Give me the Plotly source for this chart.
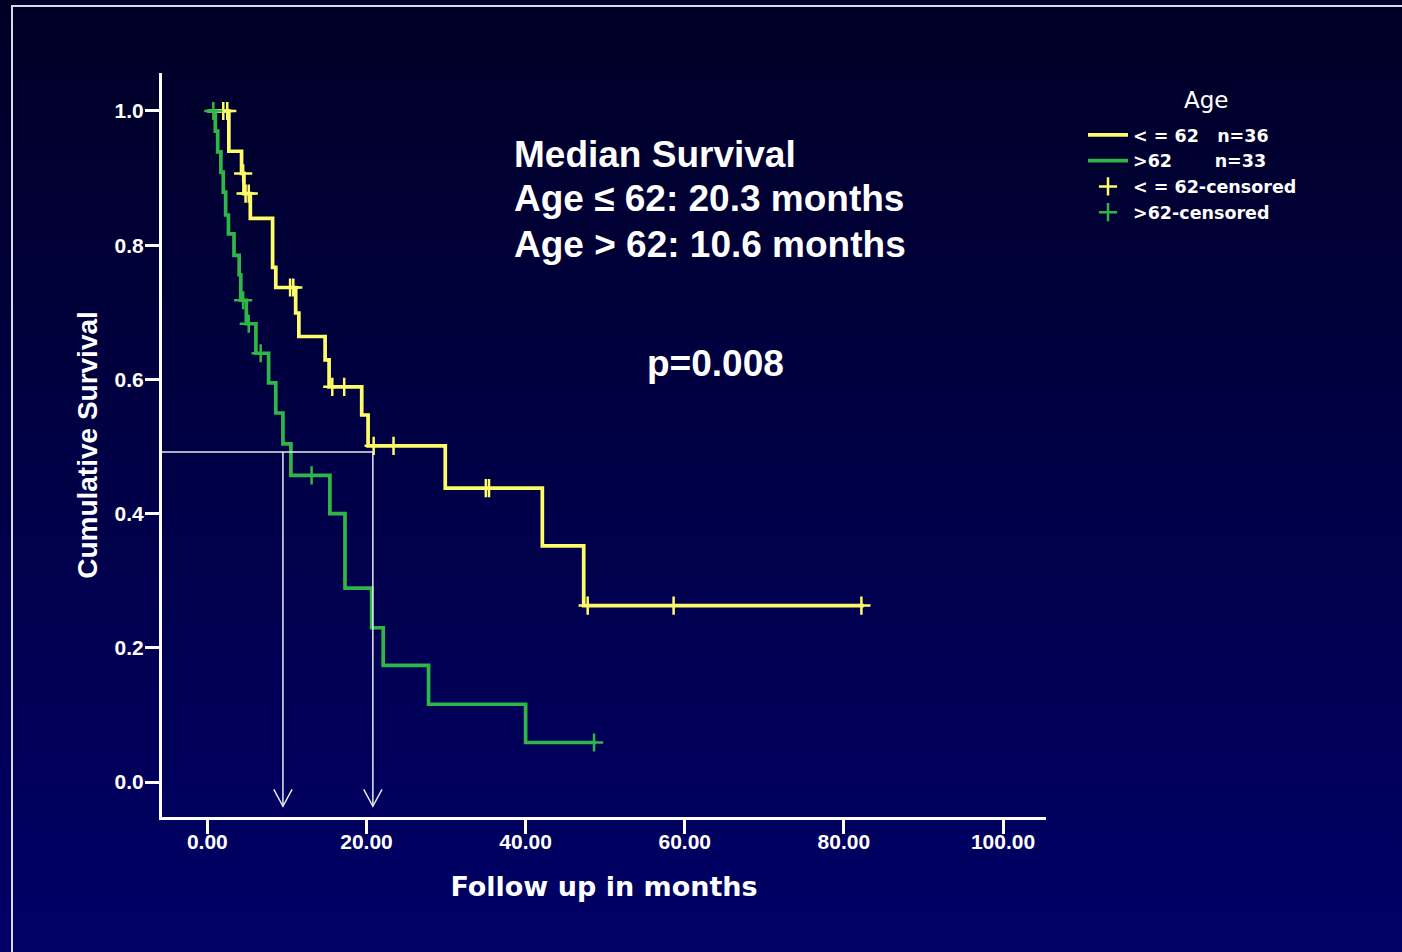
import plotly.graph_objects as go

# ---------------- data ----------------
young_t = [0, 2.7, 4.3, 4.6, 5.4, 8.2, 8.6, 11.1, 11.5, 14.8, 15.3, 19.4, 20.2, 29.9, 42.1, 47.3, 82.5]
young_s = [1.0, 0.940, 0.907, 0.877, 0.840, 0.767, 0.737, 0.699, 0.664, 0.629, 0.589, 0.547, 0.501, 0.438, 0.352, 0.263, 0.263]
young_cens_t = [2.0, 2.5, 4.5, 4.8, 5.2, 10.4, 10.8, 15.7, 17.2, 20.9, 23.4, 35.0, 35.4, 47.8, 58.6, 82.2]
young_cens_s = [1.0, 1.0, 0.907, 0.877, 0.877, 0.737, 0.737, 0.589, 0.589, 0.501, 0.501, 0.438, 0.438, 0.263, 0.263, 0.263]

old_t = [0, 1.0, 1.3, 1.7, 2.0, 2.3, 2.65, 3.35, 4.0, 4.2, 4.9, 6.1, 7.7, 8.6, 9.5, 10.5, 15.4, 17.3, 20.65, 22.1, 27.8, 40.0, 48.8]
old_s = [1.0, 0.970, 0.939, 0.909, 0.879, 0.845, 0.817, 0.785, 0.756, 0.718, 0.683, 0.639, 0.595, 0.550, 0.504, 0.457, 0.400, 0.289, 0.230, 0.174, 0.116, 0.059, 0.059]
old_cens_t = [0.75, 4.5, 5.2, 6.7, 13.1, 48.6]
old_cens_s = [1.0, 0.718, 0.683, 0.639, 0.457, 0.059]

median_level = 0.492
median_times = [9.5, 20.8]

x_ticks = [0, 20, 40, 60, 80, 100]
y_ticks = [0.0, 0.2, 0.4, 0.6, 0.8, 1.0]

text_lines = ["Median Survival", "Age ≤ 62: 20.3 months", "Age > 62: 10.6 months"]
p_text = "p=0.008"
legend_title = "Age"

YELLOW = "#fdfd6a"
GREEN = "#30b548"
WHITE = "#ffffff"
NB = "\u00a0"

fig = go.Figure()

fig.add_trace(go.Scatter(x=young_t, y=young_s, mode="lines", line=dict(shape="hv", color=YELLOW, width=3.7),
                         name=f"<{NB}={NB}62{NB*3}n=36"))
fig.add_trace(go.Scatter(x=old_t, y=old_s, mode="lines", line=dict(shape="hv", color=GREEN, width=3.7),
                         name=f">62{NB*7}n=33"))
fig.add_trace(go.Scatter(x=young_cens_t, y=young_cens_s, mode="markers",
                         marker=dict(symbol="cross-thin", size=13, color=YELLOW, line=dict(color=YELLOW, width=2.5)),
                         name=f"<{NB}={NB}62-censored"))
fig.add_trace(go.Scatter(x=old_cens_t, y=old_cens_s, mode="markers",
                         marker=dict(symbol="cross-thin", size=13, color=GREEN, line=dict(color=GREEN, width=2.5)),
                         name=">62-censored"))

# median reference lines with open arrowheads
xmin, xmax = -5.7, 105.4
ymin, ymax = -0.052, 1.0566
arrow_tip = -0.036
arrow_h = 0.025
arrow_w = 1.15
line_style = dict(color="#e8e8f0", width=1.5)
shapes = []
shapes.append(dict(type="line", xref="x", yref="y", x0=xmin, x1=max(median_times),
                   y0=median_level, y1=median_level, line=line_style))
for mt in median_times:
    shapes.append(dict(type="line", xref="x", yref="y", x0=mt, x1=mt, y0=median_level, y1=arrow_tip, line=line_style))
    shapes.append(dict(type="path", xref="x", yref="y",
                       path=f"M {mt-arrow_w},{arrow_tip+arrow_h} L {mt},{arrow_tip} L {mt+arrow_w},{arrow_tip+arrow_h}",
                       line=line_style))

# background gradient (paper coordinates)
W, H = 1402, 952
L, R, T, B = 162, 356, 73, 135
pw, ph = W - L - R, H - T - B
nb = 48
for i in range(nb):
    py0 = i * H / nb
    py1 = (i + 1) * H / nb + 1
    f = (i + 0.5) / nb
    blue = int(38 + (104 - 38) * f)
    shapes.append(dict(type="rect", xref="paper", yref="paper", layer="below",
                       x0=-L / pw - 0.01, x1=1 + R / pw + 0.01,
                       y0=1 + (T - py1) / ph, y1=1 + (T - py0) / ph,
                       line=dict(width=0), fillcolor=f"rgb(0,0,{blue})"))
# frame
fx = (12 - L) / pw
fy = 1 + (T - 6) / ph
shapes.append(dict(type="path", xref="paper", yref="paper", layer="below",
                   path=f"M {fx},{-B/ph - 0.01} L {fx},{fy} L {1 + R/pw + 0.01},{fy}",
                   line=dict(color="#d8d8e8", width=2)))


def py(v):
    return 1 + (T - v) / ph


def px(v):
    return (v - L) / pw


annotations = []
for line_text, cy in zip(text_lines, [154, 199, 244]):
    annotations.append(dict(xref="paper", yref="paper", x=px(512), y=py(cy), xanchor="left", yanchor="middle",
                            showarrow=False, text=line_text,
                            font=dict(family="Liberation Sans", size=37, color=WHITE, weight="bold")))
annotations.append(dict(xref="paper", yref="paper", x=px(715), y=py(363), xanchor="center", yanchor="middle",
                        showarrow=False, text=p_text,
                        font=dict(family="Liberation Sans", size=37, color=WHITE, weight="bold")))
annotations.append(dict(xref="paper", yref="paper", x=px(1206), y=py(100), xanchor="center", yanchor="middle",
                        showarrow=False, text=legend_title,
                        font=dict(family="DejaVu Sans", size=23, color=WHITE)))

fig.update_layout(
    width=W, height=H,
    margin=dict(l=L, r=R, t=T, b=B, autoexpand=False),
    paper_bgcolor="#000044",
    plot_bgcolor="rgba(0,0,0,0)",
    shapes=shapes,
    showlegend=True,
    legend=dict(
        x=px(1083), y=py(117), xanchor="left", yanchor="top",
        bgcolor="rgba(0,0,0,0)",
        font=dict(family="DejaVu Sans", size=17.5, color=WHITE, weight="bold"),
        itemwidth=40, tracegroupgap=0,
    ),
    xaxis=dict(
        range=[xmin, xmax], tickvals=x_ticks, tickformat=".2f",
        showgrid=False, zeroline=False, showline=True, linecolor=WHITE, linewidth=3,
        ticks="outside", ticklen=14, tickwidth=3, tickcolor=WHITE, ticklabelstandoff=-10,
        tickfont=dict(family="Liberation Sans", size=21, color=WHITE, weight="bold"),
        title=dict(text="Follow up in months", standoff=25,
                   font=dict(family="DejaVu Sans", size=27, color=WHITE, weight="bold")),
    ),
    yaxis=dict(
        range=[ymin, ymax], tickvals=y_ticks, tickformat=".1f",
        showgrid=False, zeroline=False, showline=True, linecolor=WHITE, linewidth=3,
        ticks="outside", ticklen=14, tickwidth=3, tickcolor=WHITE, ticklabelstandoff=-3,
        tickfont=dict(family="Liberation Sans", size=21, color=WHITE, weight="bold"),
        title=dict(text="Cumulative Survival", standoff=9,
                   font=dict(family="Liberation Sans", size=28, color=WHITE, weight="bold")),
    ),
    annotations=annotations,
)

fig.write_html(
    "out.html",
    config={"displayModeBar": False},
    post_script="document.body.style.margin='0';document.body.style.overflow='hidden';"
                "document.documentElement.style.background='#000044';",
)
